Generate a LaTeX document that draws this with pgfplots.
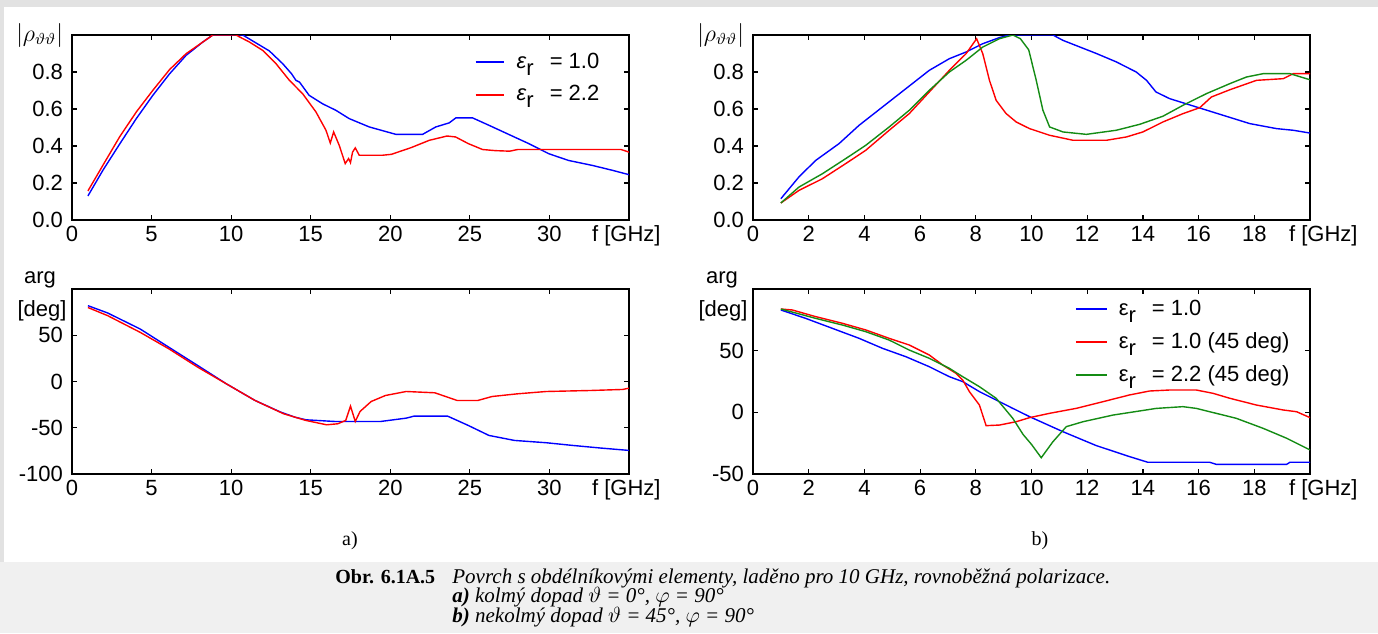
\documentclass[border=0pt]{standalone}
\usepackage{fontspec}
\setmainfont{Liberation Sans}
\newfontfamily\capfont{Liberation Serif}
\usepackage{pgfplots}
\pgfplotsset{compat=1.18}

\definecolor{cblue}{RGB}{0,0,255}
\definecolor{cred}{RGB}{255,0,0}
\definecolor{cgreen}{RGB}{20,140,20}
\definecolor{capbg}{RGB}{240,240,240}
\definecolor{edge}{RGB}{226,226,226}

\newcommand{\lblfont}{\fontsize{11}{13}\selectfont}
\newcommand{\er}{\hspace{3.5pt}ε\raisebox{-0.6ex}{r}\hspace{8pt}}

\pgfplotsset{
  panel/.style={
    scale only axis, width=278.5pt, height=92.5pt, anchor=south west,
    clip mode=individual,
    axis line style={black, line width=0.6pt},
    tick style={black, line width=0.6pt},
    major tick length=2.5pt,
    tick align=inside,
    tick label style={font=\lblfont},
    xticklabel style={anchor=base, yshift=-10.5pt},
    yticklabel style={xshift=-1pt},
    every axis plot/.append style={line width=0.7pt},
    legend cell align=left,
    legend image code/.code={\draw[#1, line width=1pt] (0pt,0pt) -- (\pgfkeysvalueof{/pgfplots/leglen},0pt);},
    legend style={draw=none, fill=none, inner sep=0pt, row sep=3pt, font=\lblfont},
  },
  leglen/.initial=14pt,
}

\begin{document}
\begin{tikzpicture}
\path[use as bounding box] (0,0) rectangle (689pt,-316.5pt);
\fill[white] (0,0) rectangle (689pt,-316.5pt);
\fill[edge] (0,0) rectangle (689pt,-3.5pt);
\fill[edge] (0,0) rectangle (2pt,-281pt);
\fill[capbg] (0,-281pt) rectangle (689pt,-316.5pt);

% a) top: |rho|
\begin{axis}[panel, at={(36pt,-110pt)},
  xmin=0, xmax=35, ymin=0, ymax=1,
  xtick={0,5,10,15,20,25,30}, xticklabels={0,5,10,15,20,25,30},
  ytick={0,0.2,0.4,0.6,0.8,1}, yticklabels={0.0,0.2,0.4,0.6,0.8,{\large$|\rho_{\vartheta\vartheta}|$}},
  leglen=14pt,
  legend style={at={(0.722,0.765)}, anchor=west},
]
\addplot[cblue] coordinates {
(1.0,0.13) (1.95,0.27) (2.99,0.41) (4.04,0.548) (5.08,0.674) (6.13,0.79) (7.17,0.89)
(8.22,0.962) (8.85,1.0) (10.73,1.0) (11.35,0.968) (12.4,0.914) (13.24,0.845) (13.8,0.79)
(14.07,0.755) (14.3,0.745) (14.9,0.674) (15.75,0.628) (16.58,0.593) (17.42,0.548)
(18.68,0.503) (20.35,0.463) (22.03,0.463) (22.86,0.503) (23.7,0.525) (24.12,0.552)
(25.17,0.552) (26.2,0.512) (27.46,0.462) (28.7,0.413) (29.97,0.358) (31.2,0.322)
(32.7,0.295) (33.94,0.269) (35,0.245)
};
\addlegendentry{\hspace{4pt}\textit{ε}\raisebox{-0.6ex}{r}\hspace{8pt}= 1.0}
\addplot[cred] coordinates {
(1.0,0.157) (1.95,0.297) (2.99,0.449) (4.04,0.584) (5.08,0.701) (6.13,0.813) (7.17,0.899)
(8.22,0.962) (8.85,1.0) (10.3,1.0) (11.15,0.962) (11.98,0.917) (12.82,0.845) (13.66,0.755)
(14.49,0.683) (15.33,0.584) (15.96,0.485) (16.23,0.416) (16.44,0.476) (16.79,0.404)
(17.17,0.305) (17.38,0.332) (17.5,0.31) (17.63,0.367) (17.8,0.39) (18.05,0.35) (19.5,0.35)
(20.07,0.355) (21.3,0.391) (22.46,0.431) (23.57,0.454) (24.1,0.449) (24.9,0.413)
(25.8,0.381) (26.6,0.375) (27.5,0.372) (28,0.381) (34.5,0.381) (35,0.367)
};
\addlegendentry{\hspace{4pt}\textit{ε}\raisebox{-0.6ex}{r}\hspace{8pt}= 2.2}
\node[anchor=base east, font=\lblfont, inner sep=0pt] at (rel axis cs:1,0) [xshift=16pt, yshift=-10.5pt] {f [GHz]};
\end{axis}

% b) top: |rho|
\begin{axis}[panel, at={(376.5pt,-110pt)},
  xmin=0, xmax=20, ymin=0, ymax=1,
  xtick={0,2,...,18}, xticklabels={0,2,4,6,8,10,12,14,16,18},
  ytick={0,0.2,0.4,0.6,0.8,1}, yticklabels={0.0,0.2,0.4,0.6,0.8,{\large$|\rho_{\vartheta\vartheta}|$}},
]
\addplot[cblue] coordinates {
(1.0,0.115) (1.65,0.233) (2.25,0.322) (3.09,0.413) (3.81,0.512) (4.65,0.611) (5.49,0.71)
(6.33,0.809) (7.05,0.872) (7.65,0.908) (8.25,0.953) (8.85,0.986) (9.2,1.0) (10.77,1.0)
(11.13,0.971) (12.33,0.9) (13.04,0.855) (13.76,0.8) (14.13,0.755) (14.47,0.692)
(14.96,0.656) (15.92,0.611) (16.88,0.566) (17.84,0.521) (18.8,0.494) (19.4,0.485) (20,0.47)
};
\addplot[cred] coordinates {
(1.0,0.092) (1.65,0.16) (2.49,0.223) (3.33,0.305) (4.05,0.377) (4.89,0.485) (5.61,0.575)
(6.33,0.692) (7.05,0.809) (7.65,0.899) (8.03,0.98) (8.25,0.899) (8.49,0.755) (8.73,0.647)
(9.09,0.575) (9.45,0.53) (9.93,0.494) (10.65,0.458) (11.49,0.431) (12.69,0.431)
(13.41,0.449) (14.0,0.476) (14.72,0.53) (15.44,0.575) (16.04,0.607) (16.46,0.665)
(17.12,0.704) (18.08,0.755) (19.04,0.764) (19.4,0.791) (20,0.791)
};
\addplot[cgreen] coordinates {
(1.0,0.092) (1.65,0.178) (2.49,0.25) (3.33,0.332) (4.05,0.404) (4.89,0.503) (5.61,0.593)
(6.33,0.701) (7.05,0.8) (7.65,0.863) (8.25,0.935) (8.85,0.98) (9.33,1.0) (9.6,0.98)
(9.9,0.92) (10.17,0.755) (10.41,0.593) (10.65,0.503) (11.13,0.476) (11.97,0.463)
(13.04,0.485) (13.88,0.517) (14.72,0.561) (15.44,0.62) (16.28,0.683) (17.12,0.737)
(17.72,0.773) (18.32,0.791) (19.28,0.791) (20,0.758)
};
\node[anchor=base east, font=\lblfont, inner sep=0pt] at (rel axis cs:1,0) [xshift=24pt, yshift=-10.5pt] {f [GHz]};
\end{axis}

% a) bottom: arg
\begin{axis}[panel, at={(36pt,-237pt)},
  xmin=0, xmax=35, ymin=-100, ymax=100,
  xtick={0,5,10,15,20,25,30}, xticklabels={0,5,10,15,20,25,30},
  ytick={-100,-50,0,50}, yticklabels={-100,-50,0,50},
]
\addplot[cblue] coordinates {
(1.0,82) (2.24,74.1) (4.28,56.8) (6.09,37) (7.9,17.3) (9.7,-2.5) (11.5,-20.5) (13.1,-33)
(14.0,-38.5) (14.7,-41.4) (16.5,-43.2) (19.4,-43.2) (21.0,-39.6) (21.5,-37.4) (23.6,-37.4)
(24.9,-47.5) (26.2,-58.3) (27.8,-63.7) (29.8,-66.2) (31.4,-69) (33.2,-71.9) (35,-74.5)
};
\addplot[cred] coordinates {
(1.0,80) (2.24,71.2) (4.28,53.2) (6.09,35.3) (7.9,15.5) (9.7,-2.5) (11.5,-20.5)
(13.3,-34.9) (14.7,-42.1) (16.0,-46.8) (16.7,-45.7) (17.2,-42.1) (17.5,-26.6) (17.8,-43.2)
(18.1,-32.4) (18.8,-21.6) (19.7,-15.1) (21.0,-10.8) (22.8,-12.2) (24.2,-20.5) (25.5,-20.5)
(26.4,-16.2) (28.0,-13.3) (29.8,-10.8) (32.6,-9.7) (34.6,-8.6) (35,-7.2)
};
\node[anchor=base east, font=\lblfont, inner sep=0pt] at (rel axis cs:1,0) [xshift=16pt, yshift=-10.5pt] {f [GHz]};
\node[font=\lblfont, inner sep=0pt] at (rel axis cs:0,1) [xshift=-16pt, yshift=4.5pt] {arg};
\node[font=\lblfont, inner sep=0pt] at (rel axis cs:0,1) [xshift=-15pt, yshift=-11pt] {[deg]};
\end{axis}

% b) bottom: arg
\begin{axis}[panel, at={(376.5pt,-237pt)},
  xmin=0, xmax=20, ymin=-50, ymax=100,
  xtick={0,2,...,18}, xticklabels={0,2,4,6,8,10,12,14,16,18},
  ytick={-50,0,50}, yticklabels={-50,0,50},
  leglen=15.5pt,
  legend style={at={(0.577,0.7135)}, anchor=west},
]
\addplot[cblue] coordinates {
(1.0,83) (1.89,76.2) (2.85,68.1) (3.81,60) (4.65,51.9) (5.49,45.1) (6.33,37) (7.05,28.9)
(7.53,24.9) (8.13,16.8) (8.73,10) (9.33,3.2) (9.93,-3.5) (11.13,-15.7) (12.33,-27)
(13.52,-35.9) (14.18,-40.5) (16.4,-40.5) (16.64,-42.2) (19.16,-42.2) (19.28,-40.5) (20,-40.5)
};
\addlegendentry{\er= 1.0}
\addplot[cred] coordinates {
(1.0,83.8) (1.41,83) (2.25,77.6) (3.21,72.2) (4.05,66.8) (4.89,60) (5.61,54.6) (6.33,46.5)
(6.81,38.4) (7.29,31.6) (7.53,26.2) (7.77,16.8) (8.13,5.9) (8.37,-10.8) (8.85,-10.3)
(9.45,-7.6) (9.93,-4.3) (10.65,-0.8) (11.6,3.2) (12.56,8.6) (13.52,14.1) (14.24,17.3)
(14.96,18.1) (15.92,18.1) (16.52,15.4) (17.12,11.4) (18.08,5.9) (19.04,1.9) (19.52,0.5) (20,-4.3)
};
\addlegendentry{\er= 1.0 (45 deg)}
\addplot[cgreen] coordinates {
(1.0,83.8) (2.25,76.2) (3.21,70.8) (4.05,65.4) (4.89,58.6) (5.61,50.5) (6.33,43.8)
(7.05,35.7) (7.53,28.9) (8.13,20.8) (8.73,11.4) (9.33,-4.9) (9.7,-18) (10.0,-26)
(10.35,-36.8) (10.77,-23.8) (11.25,-11.6) (11.85,-7.6) (12.93,-2.2) (13.88,1.1)
(14.48,3.2) (15.44,4.6) (15.92,3.2) (16.4,0.5) (17.36,-4.9) (18.32,-13) (19.16,-21) (20,-30.5)
};
\addlegendentry{\er= 2.2 (45 deg)}
\node[anchor=base east, font=\lblfont, inner sep=0pt] at (rel axis cs:1,0) [xshift=24pt, yshift=-10.5pt] {f [GHz]};
\node[font=\lblfont, inner sep=0pt] at (rel axis cs:0,1) [xshift=-15.5pt, yshift=4.5pt] {arg};
\node[font=\lblfont, inner sep=0pt] at (rel axis cs:0,1) [xshift=-15pt, yshift=-11pt] {[deg]};
\end{axis}

% panel labels and caption
\node[font=\capfont\fontsize{10}{12}\selectfont] at (175pt,-270.5pt) {a)};
\node[font=\capfont\fontsize{10}{12}\selectfont] at (520pt,-270.5pt) {b)};
\begin{scope}[every node/.style={anchor=base west, inner sep=0pt, font=\capfont\fontsize{10.5}{12}\selectfont}]
\node[font=\capfont\fontsize{10}{12}\selectfont] at (167.5pt,-291.5pt) {\bfseries Obr. 6.1A.5};
\node at (226pt,-291.5pt) {\itshape Povrch s obdélníkovými elementy, laděno pro 10 GHz, rovnoběžná polarizace.};
\node at (226pt,-301.3pt) {\itshape\textbf{a)} kolmý dopad $\vartheta$ = 0°, $\varphi$ = 90°};
\node at (226pt,-311.1pt) {\itshape\textbf{b)} nekolmý dopad $\vartheta$ = 45°, $\varphi$ = 90°};
\end{scope}
\end{tikzpicture}
\end{document}
